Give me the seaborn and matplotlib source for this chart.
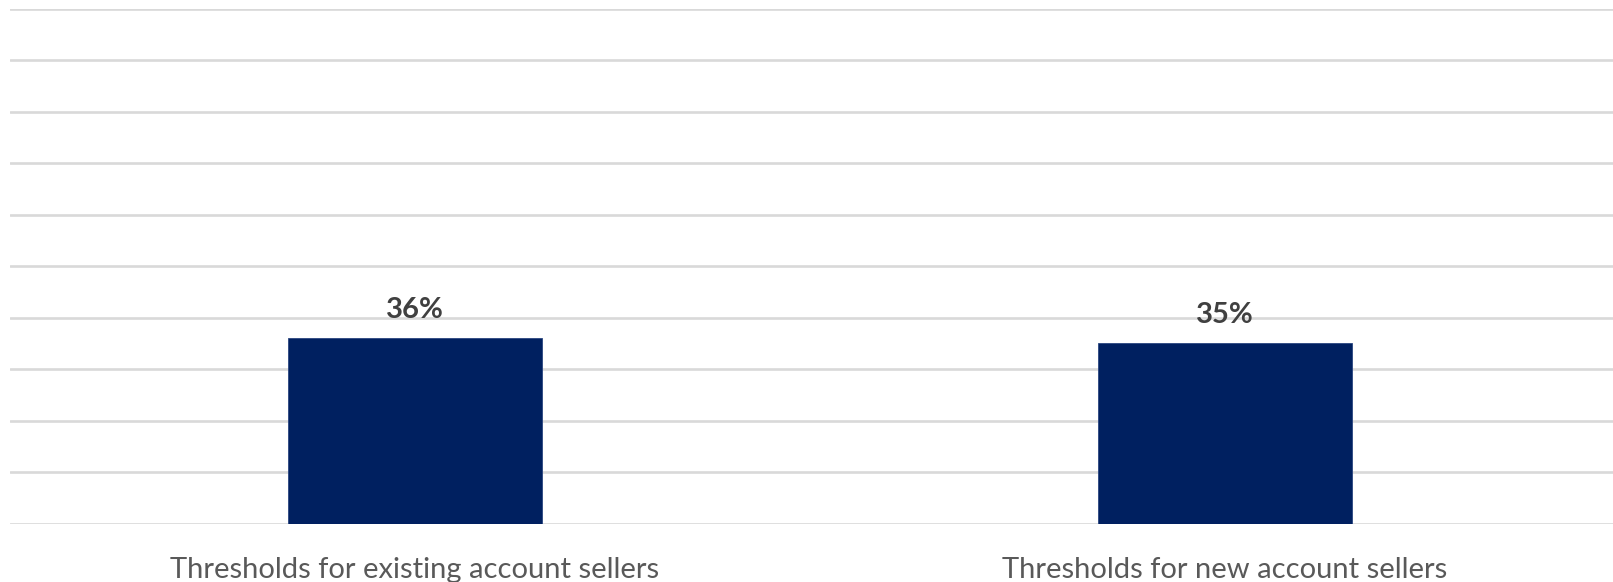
import matplotlib
matplotlib.use("Agg")
import matplotlib.pyplot as plt
import seaborn as sns
import pandas as pd

categories = ["Thresholds for existing account sellers", "Thresholds for new account sellers"]
values = [0.36, 0.35]
value_labels = ["36%", "35%"]

sns.set_theme(style="white")
plt.rcParams["font.family"] = ["Lato", "DejaVu Sans"]

df = pd.DataFrame({"category": categories, "share": values})

fig = plt.figure(figsize=(16.13, 5.82), dpi=100)
ax = fig.add_axes([10 / 1613, 58.3 / 582, 1603 / 1613, 515.2 / 582])

sns.barplot(data=df, x="category", y="share", color="#002060", width=0.3136,
            saturation=1, edgecolor="#2a4580", linewidth=0.6, ax=ax, zorder=3)

ax.set_ylim(0, 1.0)
ax.set_xlim(-0.5, 1.479)
ax.set_yticks([i / 10 for i in range(11)])
ax.yaxis.grid(True, color="#d9d9d9", linewidth=1.9, zorder=0)
ax.set_axisbelow(True)
ax.tick_params(axis="y", left=False, labelleft=False)
ax.tick_params(axis="x", bottom=False, labelsize=21, labelcolor="#595959", pad=18)
ax.set_xlabel("")
ax.set_ylabel("")
for s in ax.spines.values():
    s.set_visible(False)

for bar, lab in zip(ax.patches, value_labels):
    ax.annotate(lab, (bar.get_x() + bar.get_width() / 2, bar.get_height()),
                xytext=(0, 11), textcoords="offset points", ha="center", va="bottom",
                fontsize=21, fontweight="bold", color="#404040")

fig.savefig("out.png", dpi=100)
